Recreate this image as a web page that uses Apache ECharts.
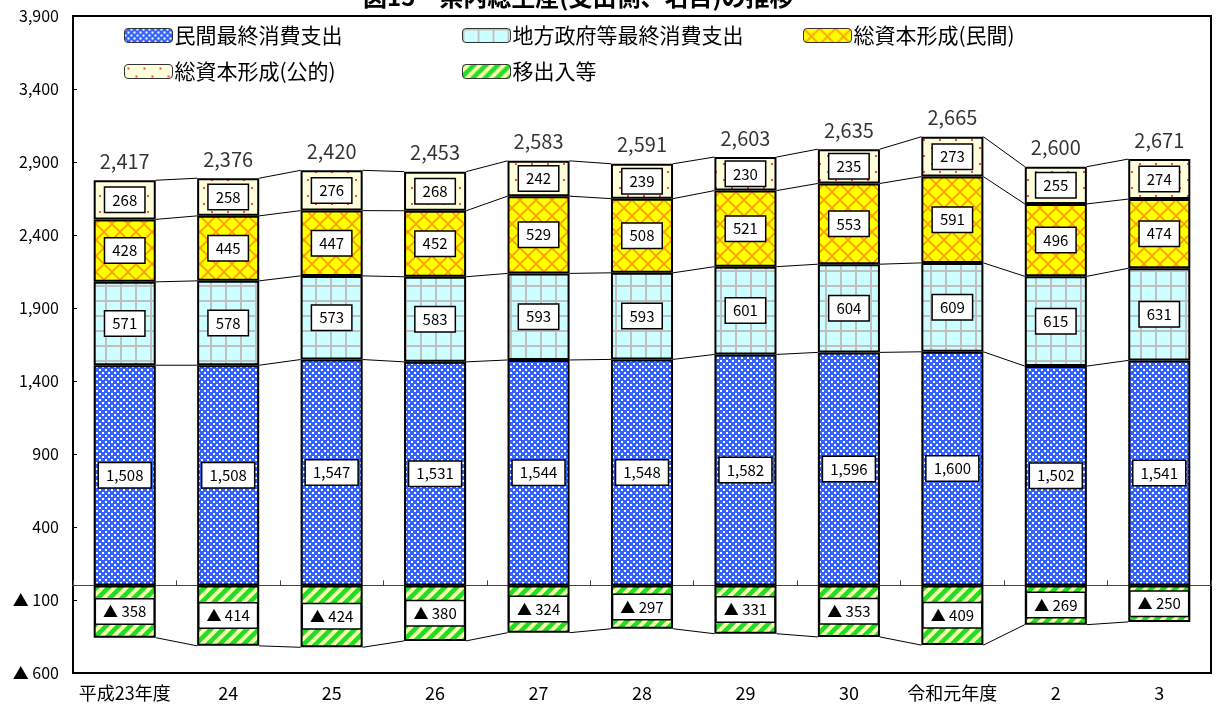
<!DOCTYPE html>
<html>
<head>
<meta charset="utf-8">
<script src="https://cdn.jsdelivr.net/npm/echarts@6/dist/echarts.min.js"></script>
<style>
html,body{margin:0;padding:0;background:#fff;}
#chart{width:1216px;height:706px;}
</style>
</head>
<body>
<div id="chart"></div>
<script>
// ---- data ----
const categories = ['平成23年度','24','25','26','27','28','29','30','令和元年度','2','3'];
const privateConsumption = [1508,1508,1547,1531,1544,1548,1582,1596,1600,1502,1541];
const govConsumption     = [571,578,573,583,593,593,601,604,609,615,631];
const privateCapital     = [428,445,447,452,529,508,521,553,591,496,474];
const publicCapital      = [268,258,276,268,242,239,230,235,273,255,274];
const netExports         = [-358,-414,-424,-380,-324,-297,-331,-353,-409,-269,-250];
const totals             = [2417,2376,2420,2453,2583,2591,2603,2635,2665,2600,2671];
const yMin = -600, yMax = 3900, yStep = 500;
const seriesNames = ['民間最終消費支出','地方政府等最終消費支出','総資本形成(民間)','総資本形成(公的)','移出入等'];

const FONT = "'Noto Sans CJK JP', 'Liberation Sans', sans-serif";
function fmt(n){ return String(n).replace(/\B(?=(\d{3})+(?!\d))/g, ','); }
function fmtSigned(n){ return n < 0 ? '▲ ' + fmt(Math.abs(n)) : fmt(n); }

// ---- patterns ----
function makeCanvas(w,h,draw){ const c=document.createElement('canvas'); c.width=w; c.height=h; draw(c.getContext('2d'),w,h); return {image:c, repeat:'repeat'}; }
const patBlue = makeCanvas(6,6,(g)=>{ g.fillStyle='#3563ff'; g.fillRect(0,0,6,6); g.fillStyle='#ffffff'; g.fillRect(0,0,2,2); g.fillRect(3,3,2,2); });
const patGrid = makeCanvas(15,15,(g)=>{ g.fillStyle='#ccffff'; g.fillRect(0,0,15,15); g.fillStyle='#c0c0c0'; g.fillRect(0,0,2,15); g.fillRect(0,0,15,2); });
const patCross = makeCanvas(16,16,(g)=>{ g.fillStyle='#ffff00'; g.fillRect(0,0,16,16); g.strokeStyle='#ff9900'; g.lineWidth=1.6; g.beginPath(); g.moveTo(-2,-2); g.lineTo(18,18); g.moveTo(18,-2); g.lineTo(-2,18); g.stroke(); });
const patDots = makeCanvas(16,16,(g)=>{ g.fillStyle='#ffffdc'; g.fillRect(0,0,16,16); g.fillStyle='#ff4a4a'; g.fillRect(3,3,2,2); g.fillRect(11,11,2,2); });
const patStripe = makeCanvas(12,12,(g)=>{ g.fillStyle='#ffffb4'; g.fillRect(0,0,12,12); g.strokeStyle='#22dd22'; g.lineWidth=4.6; g.beginPath(); g.moveTo(-12,12); g.lineTo(12,-12); g.moveTo(0,12); g.lineTo(12,0); g.moveTo(0,24); g.lineTo(24,0); g.stroke(); });

// ---- cumulative levels (derived from data) ----
const lv1 = privateConsumption.map((v,i)=>v);
const lv2 = lv1.map((v,i)=>v+govConsumption[i]);
const lv3 = lv2.map((v,i)=>v+privateCapital[i]);
const lv4 = lv3.map((v,i)=>v+publicCapital[i]);
const levels = [lv1, lv2, lv3, lv4, netExports];

const boxLabel = {
  show:true, position:'inside', color:'#000', fontSize:15, fontFamily:FONT,
  backgroundColor:'#fff', borderColor:'#000', borderWidth:1.5, padding:[5,7,4,7],
  formatter:(p)=>fmtSigned(p.value)
};
function barSeries(name, data, pattern){
  return {
    name, type:'bar', stack:'gdp', data, barWidth:'60%', xAxisIndex:0,
    itemStyle:{color:pattern, borderColor:'#000', borderWidth:2},
    label:boxLabel, z:3
  };
}

const chart = echarts.init(document.getElementById('chart'));
const legendPos = [[124,25],[462,25],[803,25],[124,61],[462,61]];
const option = {
  animation:false,
  title:{ text:'図15　県内総生産(支出側、名目)の推移', left:363, top:-15, padding:0,
    textStyle:{fontSize:24, fontWeight:'bold', color:'#000', fontFamily:FONT} },
  legend: seriesNames.map((n,i)=>({
    data:[n], left:legendPos[i][0], top:legendPos[i][1], padding:0,
    itemWidth:48, itemHeight:14, itemGap:0,
    itemStyle:{borderColor:'#333', borderWidth:1},
    textStyle:{fontSize:21, color:'#000', fontFamily:FONT, padding:[0,0,0,-3]}
  })),
  grid:{ left:73, right:5, top:16, bottom:33, show:true, borderColor:'#000', borderWidth:2, backgroundColor:'transparent' },
  xAxis:[
    { type:'category', data:categories, position:'bottom', gridIndex:0,
      axisLine:{show:true, onZero:true, lineStyle:{color:'#444', width:1}},
      axisTick:{show:true, inside:true, length:5, lineStyle:{color:'#444'}},
      axisLabel:{show:false}, splitLine:{show:false} },
    { type:'category', data:categories, position:'bottom', gridIndex:0,
      axisLine:{show:false, onZero:false}, axisTick:{show:false},
      axisLabel:{show:true, fontSize:18, color:'#000', fontFamily:FONT, margin:11, interval:0}, splitLine:{show:false} }
  ],
  yAxis:{ type:'value', min:yMin, max:yMax, interval:yStep,
    axisLine:{show:true, lineStyle:{color:'#000', width:2}},
    axisTick:{show:true, inside:true, length:4, lineStyle:{color:'#000'}},
    splitLine:{show:false},
    axisLabel:{fontSize:16, color:'#000', fontFamily:FONT, margin:14, formatter:(v)=>fmtSigned(v)} },
  series:[
    barSeries(seriesNames[0], privateConsumption, patBlue),
    barSeries(seriesNames[1], govConsumption, patGrid),
    barSeries(seriesNames[2], privateCapital, patCross),
    barSeries(seriesNames[3], publicCapital, patDots),
    barSeries(seriesNames[4], netExports, patStripe),
    { name:'connectors', type:'custom', xAxisIndex:0, z:2, silent:true,
      data: categories.map((c,i)=>[i]),
      renderItem:(params, api)=>{
        const i = api.value(0);
        if (i >= categories.length-1) return null;
        const hw = api.size([1,0])[0]*0.3;
        const children = levels.map(lv=>{
          const a = api.coord([i, lv[i]]), b = api.coord([i+1, lv[i+1]]);
          return { type:'line', shape:{x1:a[0]+hw, y1:a[1], x2:b[0]-hw, y2:b[1]}, style:{stroke:'#000', lineWidth:1} };
        });
        return { type:'group', children };
      }
    },
    { name:'totals', type:'scatter', xAxisIndex:0, symbolSize:0, silent:true, z:4,
      data: lv4,
      label:{ show:true, position:'top', distance:9, color:'#000', fontSize:20, fontFamily:FONT,
        formatter:(p)=>fmt(totals[p.dataIndex]) } }
  ]
};
chart.setOption(option);
</script>
</body>
</html>
